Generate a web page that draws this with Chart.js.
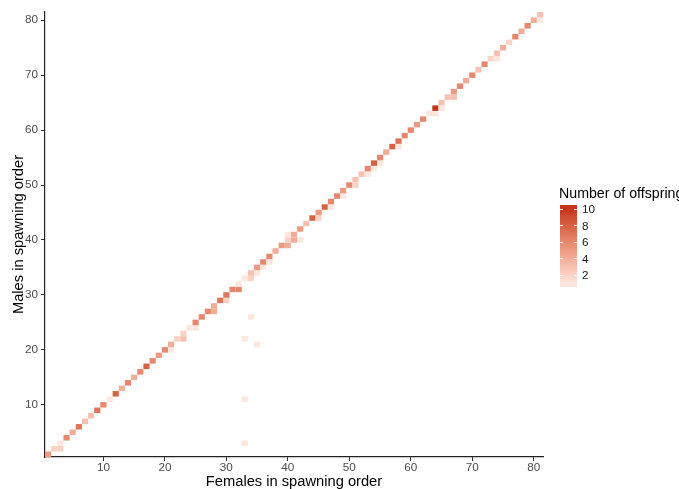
<!DOCTYPE html>
<html><head><meta charset="utf-8">
<script src="https://cdn.jsdelivr.net/npm/chart.js@4.4.1/dist/chart.umd.min.js"></script>
<style>html,body{margin:0;padding:0;background:#fff}#wrap{width:679px;height:489px;position:relative}</style>
</head><body><div id="wrap"><canvas id="c" width="679" height="489"></canvas></div>
<script>
// ---- data (female order, male order, number of offspring) ----
const females = [1,2,3,3,4,5,6,7,8,9,10,11,12,13,14,15,16,17,18,19,20,21,21,22,23,23,24,25,25,26,27,28,28,29,30,30,31,32,32,33,34,34,35,35,36,36,37,37,38,39,40,40,41,42,40,41,42,43,44,45,45,46,47,47,48,49,49,50,51,51,52,53,53,54,54,55,55,56,57,58,58,59,60,61,62,63,64,64,65,65,66,67,67,68,69,70,71,72,73,74,74,75,76,77,78,79,80,81,81,33,33,33,35,34];
const males   = [1,2,2,3,4,5,6,7,8,9,10,11,12,13,14,15,16,17,18,19,20,20,21,22,22,23,24,24,25,26,27,27,28,29,29,30,31,31,32,33,33,34,34,35,35,36,36,37,38,39,39,40,40,40,41,41,42,43,44,44,45,46,46,47,48,48,49,50,50,51,52,52,53,53,54,54,55,56,57,57,58,59,60,61,62,63,63,64,64,65,66,66,67,68,69,70,71,72,73,73,74,75,76,77,78,79,80,80,81,3,11,22,21,26];
const offspring=[5,2,2,1,6,4,7,3,3,7,6,1,8,4,6,4,6,8,6,5,6,1,4,2,3,2,1,1,6,6,6,4,4,7,2,7,6,6,1,1,2,3,1,5,1,6,1,6,4,5,4,2,4,1,1,4,5,3,8,2,5,8,1,6,6,1,5,6,2,3,3,1,6,1,8,1,6,4,8,1,7,6,6,5,6,1,1,10,1,3,3,3,5,6,4,6,3,6,2,1,3,4,2,6,4,6,4,1,3,1,1,1,1,1];
const xTicks = [10,20,30,40,50,60,70,80];
const yTicks = [10,20,30,40,50,60,70,80];
const legendTicks = [2,4,6,8,10];
const xTitle = 'Females in spawning order';
const yTitle = 'Males in spawning order';
const legendTitle = 'Number of offspring';
const colorLow = '#FCE6DE', colorHigh = '#C5341A';
const valueMin = 1, valueMax = 10;

// ---- Lab colour ramp (like ggplot's gradient) ----
function hex2rgb(h){h=h.replace('#','');return [0,2,4].map(i=>parseInt(h.substr(i,2),16));}
function srgb2lin(c){c/=255;return c<=0.04045?c/12.92:Math.pow((c+0.055)/1.055,2.4);}
function lin2srgb(c){c=c<=0.0031308?12.92*c:1.055*Math.pow(c,1/2.4)-0.055;return Math.max(0,Math.min(255,Math.round(c*255)));}
const WX=0.95047,WY=1,WZ=1.08883;
function f(t){return t>0.008856?Math.cbrt(t):7.787*t+16/116;}
function fi(t){return t>0.206893?t*t*t:(t-16/116)/7.787;}
function rgb2lab(rgb){const [r,g,b]=rgb.map(srgb2lin);
 const X=(0.4124*r+0.3576*g+0.1805*b)/WX,Y=(0.2126*r+0.7152*g+0.0722*b)/WY,Z=(0.0193*r+0.1192*g+0.9505*b)/WZ;
 return [116*f(Y)-16,500*(f(X)-f(Y)),200*(f(Y)-f(Z))];}
function lab2rgb(l){const fy=(l[0]+16)/116,fx=fy+l[1]/500,fz=fy-l[2]/200;
 const X=fi(fx)*WX,Y=fi(fy)*WY,Z=fi(fz)*WZ;
 const r=3.2406*X-1.5372*Y-0.4986*Z,g=-0.9689*X+1.8758*Y+0.0415*Z,b=0.0557*X-0.2040*Y+1.0570*Z;
 return [lin2srgb(r),lin2srgb(g),lin2srgb(b)];}
const labLo=rgb2lab(hex2rgb(colorLow)),labHi=rgb2lab(hex2rgb(colorHigh));
function colorFor(v){const t=Math.max(0,Math.min(1,(v-valueMin)/(valueMax-valueMin)));
 const c=lab2rgb(labLo.map((a,i)=>a+(labHi[i]-a)*t));return 'rgb('+c.join(',')+')';}

const points = females.map((x,i)=>({x:x,y:males[i],v:offspring[i]}));

const FONT = '"Liberation Sans", Arial, Helvetica, sans-serif';

const tilePlugin = {
 id:'tiles',
 beforeDatasetsDraw(chart){
  const {ctx,chartArea:a,scales:{x,y}}=chart;
  ctx.save();ctx.beginPath();ctx.rect(a.left,a.top,a.right-a.left,a.bottom-a.top);ctx.clip();
  chart.data.datasets[0].data.forEach(p=>{
   const x0=x.getPixelForValue(p.x-0.5),x1=x.getPixelForValue(p.x+0.5);
   const y0=y.getPixelForValue(p.y+0.5),y1=y.getPixelForValue(p.y-0.5);
   ctx.fillStyle=colorFor(p.v);ctx.fillRect(x0,y0,x1-x0,y1-y0);
  });
  ctx.restore();
 }
};

const legendPlugin = {
 id:'colorbar',
 afterDraw(chart){
  const ctx=chart.ctx;
  const bx=560,bw=17,barTop=205,barBot=287;
  const vTop=10.45, vBot=0.55; // value range covered by bar
  const py=v=>barBot-(v-vBot)/(vTop-vBot)*(barBot-barTop);
  ctx.save();
  for(let yy=barTop;yy<barBot;yy++){
   const v=vBot+(barBot-yy-0.5)/(barBot-barTop)*(vTop-vBot);
   ctx.fillStyle=colorFor(v);ctx.fillRect(bx,yy,bw,1);
  }
  ctx.strokeStyle='rgba(255,255,255,0.9)';ctx.lineWidth=1;
  ctx.fillStyle='#1a1a1a';ctx.font='11.7px '+FONT;ctx.textAlign='left';ctx.textBaseline='middle';
  legendTicks.forEach(v=>{
   const yy=Math.round(py(v))+0.5;
   ctx.beginPath();ctx.moveTo(bx,yy);ctx.lineTo(bx+3,yy);ctx.moveTo(bx+bw-3,yy);ctx.lineTo(bx+bw,yy);ctx.stroke();
   ctx.fillText(String(v),bx+bw+5,py(v)+1);
  });
  ctx.fillStyle='#000';ctx.font='14.2px '+FONT;ctx.textBaseline='middle';
  ctx.fillText(legendTitle,559,194);
  ctx.restore();
 }
};

new Chart(document.getElementById('c'),{
 type:'scatter',
 data:{datasets:[{data:points,pointRadius:0,pointHoverRadius:0,showLine:false}]},
 options:{
  responsive:false,animation:false,events:[],
  layout:{padding:{top:12,right:136,left:0,bottom:0}},
  plugins:{legend:{display:false},tooltip:{enabled:false}},
  scales:{
   x:{type:'linear',min:0.5,max:81.5,
      afterBuildTicks:s=>{s.ticks=xTicks.map(v=>({value:v}));},
      afterFit:s=>{s.height=32;},
      ticks:{color:'#4D4D4D',font:{family:FONT,size:11.7},padding:0,maxRotation:0,autoSkip:false},
      grid:{drawOnChartArea:false,drawTicks:true,tickLength:4,color:'#333333',lineWidth:1},
      border:{display:true,color:'#222222',width:1.2},
      title:{display:true,text:xTitle,color:'#000',font:{family:FONT,size:14.7,lineHeight:1},padding:{top:0,bottom:0}}},
   y:{type:'linear',min:0.5,max:81.5,
      afterBuildTicks:s=>{s.ticks=yTicks.map(v=>({value:v}));},
      afterFit:s=>{s.width=45;},
      ticks:{color:'#4D4D4D',font:{family:FONT,size:11.7},padding:3,autoSkip:false},
      grid:{drawOnChartArea:false,drawTicks:true,tickLength:4,color:'#333333',lineWidth:1},
      border:{display:true,color:'#222222',width:1.2},
      title:{display:true,text:yTitle,color:'#000',font:{family:FONT,size:14.7,lineHeight:1},padding:{top:12,bottom:0}}}
  }
 },
 plugins:[tilePlugin,legendPlugin]
});
</script></body></html>
